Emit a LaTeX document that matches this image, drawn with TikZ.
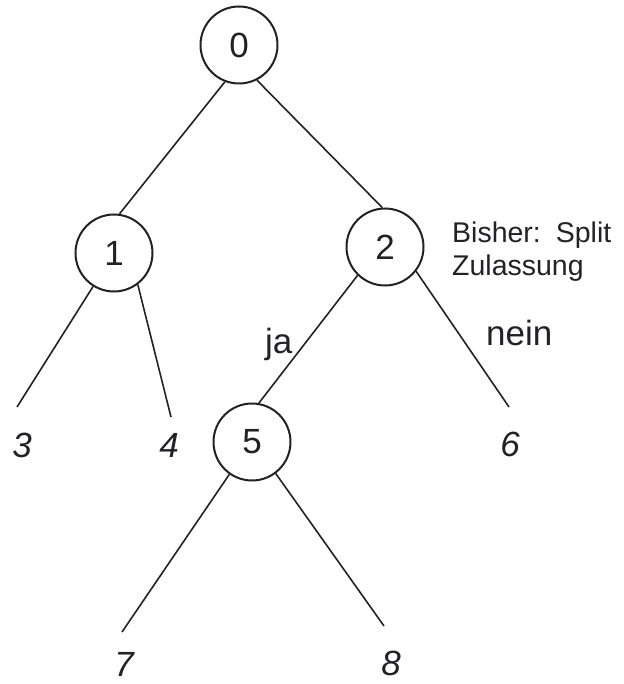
\documentclass[tikz,border=0pt]{standalone}
\usepackage{fontspec}
\setmainfont{Liberation Sans}
\definecolor{ink}{RGB}{35,33,40}
\begin{document}
\begin{tikzpicture}[x=1pt,y=-1pt,
  every node/.style={text=ink},
  inner/.style={circle,draw=ink,line width=2pt,minimum size=77pt,inner sep=0pt,font=\fontsize{35}{40}\selectfont},
  leaf/.style={inner sep=0pt,font=\fontsize{35}{40}\selectfont\itshape},
  lbl/.style={inner sep=0pt,font=\fontsize{35}{40}\selectfont},
  note/.style={inner sep=0pt,align=left,font=\fontsize{28.5}{33}\selectfont},
  edge/.style={draw=ink,line width=1.6pt}]
\useasboundingbox (0,0) rectangle (623,684);
\node[inner] (n0) at (239,45) {0};
\node[inner] (n1) at (114,253) {1};
\node[inner] (n2) at (385,247) {2};
\node[inner] (n5) at (252,442) {5};
\node[leaf] (n3) at (22,445) {3};
\node[leaf] (n4) at (169,445) {4};
\node[leaf] (n6) at (510,444) {6};
\node[leaf] (n7) at (124,664) {7};
\node[leaf] (n8) at (391,663) {8};
\coordinate (e3) at (17,407);
\coordinate (e4) at (171,417);
\coordinate (e6) at (509,407);
\coordinate (e7) at (122,632);
\coordinate (e8) at (384,626);
\node[lbl,anchor=base west] (ja) at (265,353) {ja};
\node[lbl,anchor=base west] (nein) at (486,345) {nein};
\node[note,anchor=base west] (bisher) at (452,276) {Bisher:\hspace{15pt}Split\\Zulassung};
\draw[edge] (n0.249) -- (n1.82);
\draw[edge] (n0.297) -- (n2.94);
\draw[edge] (n1.238) -- (e3);
\draw[edge] (n1.307) -- (e4);
\draw[edge] (n2.226) -- (n5.80);
\draw[edge] (n2.322) -- (e6);
\draw[edge] (n5.235) -- (e7);
\draw[edge] (n5.307) -- (e8);
\end{tikzpicture}
\end{document}
